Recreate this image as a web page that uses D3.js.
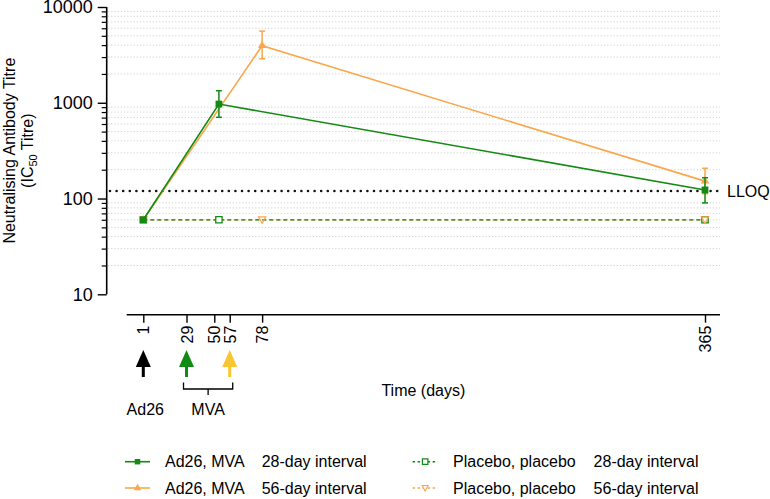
<!DOCTYPE html>
<html>
<head>
<meta charset="utf-8">
<script src="https://cdn.jsdelivr.net/npm/d3@7"></script>
<style>
  body { margin: 0; background: #fff; }
  svg { display: block; font-family: "Liberation Sans", Arial, sans-serif; }
</style>
</head>
<body>
<svg id="chart" width="770" height="499"></svg>
<script>
// ---- data ----
const yTickValues = [10, 100, 1000, 10000];
const yMinorValues = [20,30,40,50,60,70,80,90,200,300,400,500,600,700,800,900,2000,3000,4000,5000,6000,7000,8000,9000];
const xTickDays = [1, 29, 47, 57, 78, 365];
const xTickLabels = ["1", "29", "50", "57", "78", "365"];
const lloq = 120;

const ad28Days = [1, 50, 365];
const ad28Mean = [60, 970, 123];
const ad28Low  = [60, 705, 90];
const ad28High = [60, 1336, 165];

const ad56Days = [1, 78, 365];
const ad56Mean = [60, 3950, 152];
const ad56Low  = [60, 2880, 112];
const ad56High = [60, 5600, 207];

const pl28Days = [1, 50, 365];
const pl28Mean = [60, 60, 60];
const pl56Days = [1, 78, 365];
const pl56Mean = [60, 60, 60];

const vaccinationDays = [1, 29, 57];
const vaccinationNames = ["Ad26", "MVA", "MVA"];

const legendGroups = ["Ad26, MVA", "Ad26, MVA", "Placebo, placebo", "Placebo, placebo"];
const legendIntervals = ["28-day interval", "56-day interval", "28-day interval", "56-day interval"];

// ---- styles ----
const GREEN = "#138a13";
const ORANGE = "#fba64b";
const YELLOW = "#f8c630";
const FONT = 16;

const svg = d3.select("#chart");

const x = d3.scaleLinear().domain([1, 365]).range([143.3, 705]);
const y = d3.scaleLog().domain([10, 10000]).range([294.3, 7]);

const gridLeft = 108, gridRight = 720;

// gridlines
svg.append("g").selectAll("line").data(yMinorValues).join("line")
  .attr("x1", gridLeft).attr("x2", gridRight)
  .attr("y1", d => y(d)).attr("y2", d => y(d))
  .attr("stroke", "#cfcfcf").attr("stroke-width", 1)
  .attr("stroke-dasharray", "1.2,2");

// y axis
const yAxisG = svg.append("g").attr("transform", "translate(106.7,0)");
yAxisG.call(d3.axisLeft(y).tickValues(yTickValues).tickFormat(d3.format("d")).tickSize(9).tickPadding(5));
yAxisG.selectAll("text").attr("font-size", 18).attr("fill", "#000").attr("font-family", "Liberation Sans, Arial, sans-serif");
yAxisG.select(".domain").attr("stroke-width", 1.6).attr("d", `M0,${y(10)}V${y(10000)}`);
yAxisG.selectAll(".tick line").attr("stroke-width", 1.4);
const yMinorG = svg.append("g").attr("transform", "translate(106.7,0)");
yMinorG.call(d3.axisLeft(y).tickValues(yMinorValues).tickFormat("").tickSize(5));
yMinorG.select(".domain").remove();
yMinorG.selectAll(".tick line").attr("stroke-width", 1.2);

// y label
const yl = svg.append("text")
  .attr("transform", `translate(0,${(y(10)+y(10000))/2}) rotate(-90)`)
  .attr("text-anchor", "middle").attr("font-size", FONT);
yl.append("tspan").attr("x", 0).attr("y", 15).text("Neutralising Antibody Titre");
const l2 = yl.append("tspan").attr("x", 0).attr("y", 33);
l2.append("tspan").text("(IC");
l2.append("tspan").attr("font-size", 11).attr("dy", 4).text("50");
l2.append("tspan").attr("dy", -4).text(" Titre)");

// x axis
const xAxisY = 314.7;
const xAxisG = svg.append("g").attr("transform", `translate(0,${xAxisY})`);
xAxisG.call(d3.axisBottom(x).tickValues(xTickDays).tickFormat((d, i) => xTickLabels[i]).tickSize(8).tickPadding(3));
xAxisG.select(".domain").attr("d", "M126.7,0H720").attr("stroke-width", 1.6);
xAxisG.selectAll(".tick line").attr("stroke-width", 1.4);
xAxisG.selectAll(".tick text")
  .attr("font-size", FONT).attr("fill", "#000").attr("font-family", "Liberation Sans, Arial, sans-serif")
  .attr("transform", "rotate(-90)")
  .attr("text-anchor", "end").attr("dy", "0.35em").attr("y", 0).attr("x", -11);

svg.append("text").attr("x", (126.7 + 720) / 2).attr("y", 396)
  .attr("text-anchor", "middle").attr("font-size", FONT).text("Time (days)");

// LLOQ
svg.append("line").attr("x1", gridLeft + 2).attr("x2", 722)
  .attr("y1", y(lloq)).attr("y2", y(lloq))
  .attr("stroke", "#111").attr("stroke-width", 2.6)
  .attr("stroke-linecap", "round").attr("stroke-dasharray", "0,6.6");
svg.append("text").attr("x", 727).attr("y", y(lloq)).attr("dy", "0.36em")
  .attr("font-size", FONT).text("LLOQ");

// helpers
const line = d3.line().x(d => x(d[0])).y(d => y(d[1]));
function zip(a, b) { return a.map((v, i) => [v, b[i]]); }

function errorBars(days, lo, hi, color) {
  const g = svg.append("g").attr("stroke", color).attr("stroke-width", 1.5);
  days.forEach((d, i) => {
    if (lo[i] === hi[i]) return;
    g.append("line").attr("x1", x(d)).attr("x2", x(d)).attr("y1", y(lo[i])).attr("y2", y(hi[i]));
    g.append("line").attr("x1", x(d) - 3).attr("x2", x(d) + 3).attr("y1", y(lo[i])).attr("y2", y(lo[i]));
    g.append("line").attr("x1", x(d) - 3).attr("x2", x(d) + 3).attr("y1", y(hi[i])).attr("y2", y(hi[i]));
  });
}

const sqSym = d3.symbol().type(d3.symbolSquare).size(46);
const triUp = d3.symbol().type(d3.symbolTriangle).size(30);
const triDown = "M-3.6,-3 L3.6,-3 L0,3.4 Z";

// placebo 56
svg.append("path").attr("d", line(zip(pl56Days, pl56Mean)))
  .attr("fill", "none").attr("stroke", ORANGE).attr("stroke-width", 1.3).attr("stroke-dasharray", "4,3");
// placebo 28
svg.append("path").attr("d", line(zip(pl28Days, pl28Mean)))
  .attr("fill", "none").attr("stroke", GREEN).attr("stroke-width", 1.3).attr("stroke-dasharray", "4,3");
svg.append("g").selectAll("path").data(zip(pl28Days, pl28Mean)).join("path")
  .attr("transform", d => `translate(${x(d[0])},${y(d[1])})`)
  .attr("d", d3.symbol().type(d3.symbolSquare).size(40))
  .attr("fill", "#fff").attr("stroke", GREEN).attr("stroke-width", 1.3);
svg.append("g").selectAll("path").data(zip(pl56Days, pl56Mean)).join("path")
  .attr("transform", d => `translate(${x(d[0])},${y(d[1])})`)
  .attr("d", triDown)
  .attr("fill", "none").attr("stroke", ORANGE).attr("stroke-width", 1.2);

// Ad26 56-day
svg.append("path").attr("d", line(zip(ad56Days, ad56Mean)))
  .attr("fill", "none").attr("stroke", ORANGE).attr("stroke-width", 1.6);
errorBars(ad56Days, ad56Low, ad56High, ORANGE);
svg.append("g").selectAll("path").data(zip(ad56Days, ad56Mean)).join("path")
  .attr("transform", d => `translate(${x(d[0])},${y(d[1])})`)
  .attr("d", triUp).attr("fill", ORANGE);

// Ad26 28-day
svg.append("path").attr("d", line(zip(ad28Days, ad28Mean)))
  .attr("fill", "none").attr("stroke", GREEN).attr("stroke-width", 1.6);
errorBars(ad28Days, ad28Low, ad28High, GREEN);
svg.append("g").selectAll("path").data(zip(ad28Days, ad28Mean)).join("path")
  .attr("transform", d => `translate(${x(d[0])},${y(d[1])})`)
  .attr("d", sqSym).attr("fill", GREEN);

// vaccination arrows
const arrowColors = ["#000", GREEN, YELLOW];
const arrowTip = 350, arrowBase = 377;
vaccinationDays.forEach((d, i) => {
  const cx = x(d);
  const g = svg.append("g").attr("fill", arrowColors[i]);
  g.append("path").attr("d", `M${cx},${arrowTip} L${cx + 7.5},${arrowTip + 17} L${cx - 7.5},${arrowTip + 17} Z`);
  g.append("rect").attr("x", cx - 1.5).attr("y", arrowTip + 15).attr("width", 3).attr("height", arrowBase - arrowTip - 15);
});

// bracket for MVA
const bx1 = x(vaccinationDays[1]) - 3, bx2 = x(vaccinationDays[2]) + 3, bmid = (bx1 + bx2) / 2;
svg.append("path")
  .attr("d", `M${bx1},382.5 V389 H${bx2} V382.5 M${bmid},389 V395`)
  .attr("fill", "none").attr("stroke", "#000").attr("stroke-width", 1.3);

svg.append("text").attr("x", x(vaccinationDays[0]) + 2).attr("y", 415)
  .attr("text-anchor", "middle").attr("font-size", FONT).text(vaccinationNames[0]);
svg.append("text").attr("x", bmid).attr("y", 415)
  .attr("text-anchor", "middle").attr("font-size", FONT).text(vaccinationNames[1]);

// legend
const legendItems = [
  { col: 0, row: 0, color: GREEN, dash: null, marker: "sq" },
  { col: 0, row: 1, color: ORANGE, dash: null, marker: "tri" },
  { col: 1, row: 0, color: GREEN, dash: "2.5,2.5", marker: "osq" },
  { col: 1, row: 1, color: ORANGE, dash: "2.5,2.5", marker: "otri" }
];
const colX = [[125, 150, 165, 261.7], [412.6, 437.7, 453, 593.6]];
const rowY = [461.7, 488];
legendItems.forEach((it, i) => {
  const [lx1, lx2, tx1, tx2] = colX[it.col];
  const cy = rowY[it.row];
  const g = svg.append("g");
  g.append("line").attr("x1", lx1).attr("x2", lx2).attr("y1", cy).attr("y2", cy)
    .attr("stroke", it.color).attr("stroke-width", 1.6)
    .attr("stroke-dasharray", it.dash);
  const mx = (lx1 + lx2) / 2;
  const m = g.append("path").attr("transform", `translate(${mx},${cy})`);
  if (it.marker === "sq") m.attr("d", d3.symbol().type(d3.symbolSquare).size(30)).attr("fill", it.color);
  else if (it.marker === "tri") m.attr("d", d3.symbol().type(d3.symbolTriangle).size(24)).attr("fill", it.color);
  else if (it.marker === "osq") m.attr("d", d3.symbol().type(d3.symbolSquare).size(30)).attr("fill", "#fff").attr("stroke", it.color).attr("stroke-width", 1.2);
  else m.attr("d", "M-3,-2.5 L3,-2.5 L0,3 Z").attr("fill", "#fff").attr("stroke", it.color).attr("stroke-width", 1.1);
  g.append("text").attr("x", tx1).attr("y", cy).attr("dy", "0.36em").attr("font-size", FONT).text(legendGroups[i]);
  g.append("text").attr("x", tx2).attr("y", cy).attr("dy", "0.36em").attr("font-size", FONT).text(legendIntervals[i]);
});
</script>
</body>
</html>
